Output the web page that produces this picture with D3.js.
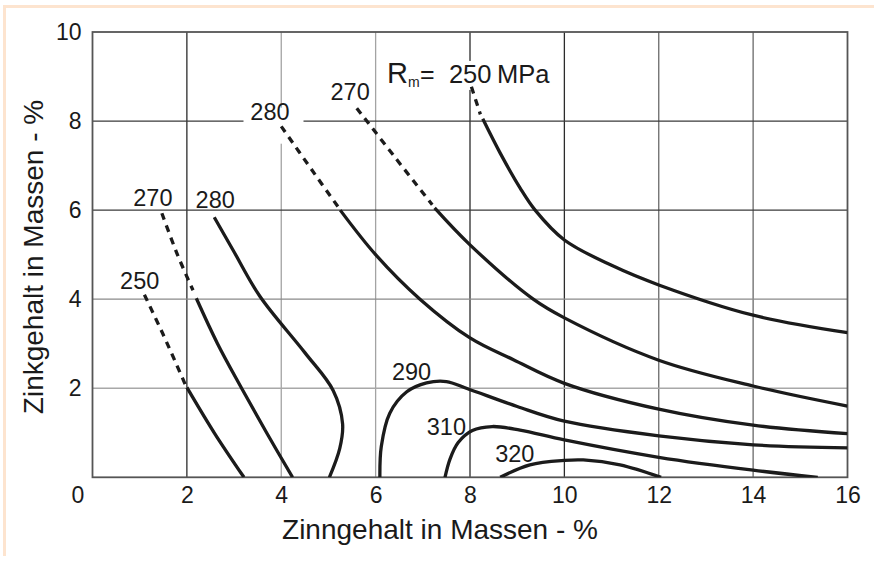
<!DOCTYPE html>
<html>
<head>
<meta charset="utf-8">
<script src="https://cdn.jsdelivr.net/npm/d3@7"></script>
<style>
  body { margin: 0; background: #fff; }
  svg { display: block; font-family: "Liberation Sans", Arial, sans-serif; }
</style>
</head>
<body>
<div id="chart"></div>
<script>
// axis ticks
const xTicks = [0, 2, 4, 6, 8, 10, 12, 14, 16];
const yTicks = [2, 4, 6, 8, 10];

// Rm isolines as [Zinn %, Zink %]; *Dash = dashed part
const rm250LeftDash = [[1.1, 4.1], [1.5, 3.2], [1.98, 2.05]];
const rm250Left = [[2.0, 2.02], [2.58, 1.0], [3.21, 0]];
const rm270LeftDash = [[1.47, 5.93], [1.8, 5.0], [2.13, 4.2]];
const rm270Left = [[2.2, 4.02], [2.65, 3.0], [3.16, 2.0], [3.69, 1.0], [4.24, 0]];
const rm280Left = [[2.58, 5.84], [2.98, 5.1], [3.55, 4.06], [4.5, 2.8], [5.1, 1.95], [5.3, 1.2], [5.24, 0.65], [5.02, 0]];
const rm280UpDash = [[4.0, 7.88], [4.65, 6.9], [5.2, 6.08]];
const rm280Up = [[5.25, 6.0], [6.0, 5.0], [6.94, 4.0], [8.0, 3.13], [8.92, 2.64], [10, 2.11], [12, 1.53], [14, 1.17], [16, 0.98]];
const rm270UpDash = [[5.6, 8.29], [6.4, 7.2], [7.2, 6.12]];
const rm270Up = [[7.25, 6.05], [8.0, 5.22], [9.34, 4.0], [10, 3.58], [12, 2.63], [14, 2.05], [16, 1.6]];
const rm250UpDash = [[8.03, 8.77], [8.22, 8.15]];
const rm250Up = [[8.27, 8.05], [8.64, 7.28], [9.06, 6.5], [9.38, 6.0], [10, 5.33], [11, 4.76], [12, 4.32], [14, 3.64], [16, 3.25]];
const rm290 = [[6.09, 0], [6.12, 0.69], [6.3, 1.44], [6.66, 1.92], [7.08, 2.12], [7.5, 2.15], [7.95, 1.99], [9, 1.59], [10, 1.26], [12, 0.93], [14, 0.73], [16, 0.66]];
const rm310 = [[7.47, 0], [7.58, 0.42], [7.75, 0.78], [8.05, 1.05], [8.47, 1.14], [9.06, 1.06], [10, 0.84], [12, 0.45], [14, 0.16], [15.37, 0]];
const rm320 = [[8.64, 0], [9.27, 0.28], [10, 0.38], [10.4, 0.39], [11.18, 0.28], [12.05, 0]];

const dashedLines = [rm250LeftDash, rm270LeftDash, rm280UpDash, rm270UpDash, rm250UpDash];
const solidLines = [rm250Left, rm270Left, rm280Left, rm280Up, rm270Up, rm250Up, rm290, rm310, rm320];

// isoline labels
const isoLabels = ["250", "270", "280", "280", "270", "290", "310", "320"];
const isoLabelX = [1.0, 1.28, 2.6, 3.76, 5.46, 6.76, 7.5, 8.95];
const isoLabelY = [4.41, 6.27, 6.24, 8.21, 8.66, 2.37, 1.14, 0.52];

const W = 874, H = 563;
const margin = { top: 32, right: 26.5, bottom: 85.7, left: 92.5 };
const width = W - margin.left - margin.right;
const height = H - margin.top - margin.bottom;

const svg = d3.select('#chart')
  .append('svg')
  .attr('width', W)
  .attr('height', H);

// light frame of the original figure
svg.append('path')
  .attr('d', 'M3,6.5H874M4.5,6.5V556')
  .attr('fill', 'none')
  .attr('stroke', '#fde4cf')
  .attr('stroke-width', 3);

const g = svg.append('g')
  .attr('transform', `translate(${margin.left},${margin.top})`);

const x = d3.scaleLinear().domain([0, 16]).range([0, width]);
const y = d3.scaleLinear().domain([0, 10]).range([height, 0]);

// grid, some lines darker than others like in the print
const darkX = [2, 8, 10], midX = [12, 14];
const darkY = [6, 8], midY = [4];
const shadeX = v => darkX.includes(v) ? '#2b2b2b' : midX.includes(v) ? '#6a6a6a' : '#a3a3a3';
const shadeY = v => darkY.includes(v) ? '#3a3a3a' : midY.includes(v) ? '#8a8a8a' : '#a8a8a8';

g.selectAll('.vgrid')
  .data(xTicks.slice(1, -1))
  .join('line')
  .attr('class', 'vgrid')
  .attr('x1', d => x(d)).attr('x2', d => x(d))
  .attr('y1', 0).attr('y2', height)
  .attr('stroke', shadeX)
  .attr('stroke-width', 1.3);

g.selectAll('.hgrid')
  .data(yTicks.slice(0, -1))
  .join('line')
  .attr('class', 'hgrid')
  .attr('x1', 0).attr('x2', width)
  .attr('y1', d => y(d)).attr('y2', d => y(d))
  .attr('stroke', shadeY)
  .attr('stroke-width', 1.3);

g.append('rect')
  .attr('width', width)
  .attr('height', height)
  .attr('fill', 'none')
  .attr('stroke', '#555')
  .attr('stroke-width', 1.8);

// white patches behind two labels that cut the grid
g.append('rect')
  .attr('x', x(3.2)).attr('y', y(8.3))
  .attr('width', 60).attr('height', 36)
  .attr('fill', '#fff');
g.append('rect')
  .attr('x', x(6.2)).attr('y', y(9.35))
  .attr('width', 165).attr('height', 29)
  .attr('fill', '#fff');

// axes (labels only)
const xAxis = g.append('g')
  .attr('transform', `translate(0,${height})`)
  .call(d3.axisBottom(x).tickValues(xTicks).tickSize(0).tickPadding(9));
const yAxis = g.append('g')
  .call(d3.axisLeft(y).tickValues(yTicks).tickSize(0).tickPadding(11));

[xAxis, yAxis].forEach(a => {
  a.select('.domain').remove();
  a.attr('font-family', null).attr('font-size', null);
  a.selectAll('text').attr('font-size', 23).attr('fill', '#1a1a1a');
});
xAxis.selectAll('.tick').filter(d => d === 0).select('text').attr('x', -15);

// isolines
const line = d3.line()
  .x(d => x(d[0]))
  .y(d => y(d[1]))
  .curve(d3.curveCatmullRom.alpha(0.5));

g.append('clipPath').attr('id', 'plot')
  .append('rect').attr('width', width).attr('height', height);

const lines = g.append('g').attr('clip-path', 'url(#plot)');

lines.selectAll('.dash')
  .data(dashedLines)
  .join('path')
  .attr('class', 'dash')
  .attr('d', line)
  .attr('fill', 'none')
  .attr('stroke', '#1b1b1b')
  .attr('stroke-width', 3.3)
  .attr('stroke-dasharray', '7,6');

lines.selectAll('.solid')
  .data(solidLines)
  .join('path')
  .attr('class', 'solid')
  .attr('d', line)
  .attr('fill', 'none')
  .attr('stroke', '#1b1b1b')
  .attr('stroke-width', 3.3);

g.selectAll('.iso')
  .data(isoLabels)
  .join('text')
  .attr('class', 'iso')
  .attr('x', (d, i) => x(isoLabelX[i]))
  .attr('y', (d, i) => y(isoLabelY[i]))
  .attr('dy', '0.35em')
  .attr('text-anchor', 'middle')
  .attr('font-size', 23.5)
  .attr('fill', '#1a1a1a')
  .text(d => d);

// Rm = 250 MPa
const x0 = x(6.24);
const rm = g.append('text')
  .attr('x', x0)
  .attr('y', y(8.85))
  .attr('fill', '#1a1a1a');
rm.append('tspan').attr('font-size', 29).text('R');
rm.append('tspan').attr('x', x0 + 21).attr('dy', 4).attr('font-size', 14).text('m');
rm.append('tspan').attr('x', x0 + 33).attr('dy', -4).attr('font-size', 25).text('=');
rm.append('tspan').attr('x', x0 + 62).attr('font-size', 25.5).text('250');
rm.append('tspan').attr('x', x0 + 110).attr('font-size', 25.5).text('MPa');

// axis titles
svg.append('text')
  .attr('x', margin.left + width / 2 - 30)
  .attr('y', 539)
  .attr('text-anchor', 'middle')
  .attr('font-size', 28)
  .attr('fill', '#1a1a1a')
  .text('Zinngehalt in Massen - %');

svg.append('text')
  .attr('transform', 'translate(43,257) rotate(-90)')
  .attr('text-anchor', 'middle')
  .attr('font-size', 28)
  .attr('fill', '#1a1a1a')
  .text('Zinkgehalt in Massen - %');
</script>
</body>
</html>
